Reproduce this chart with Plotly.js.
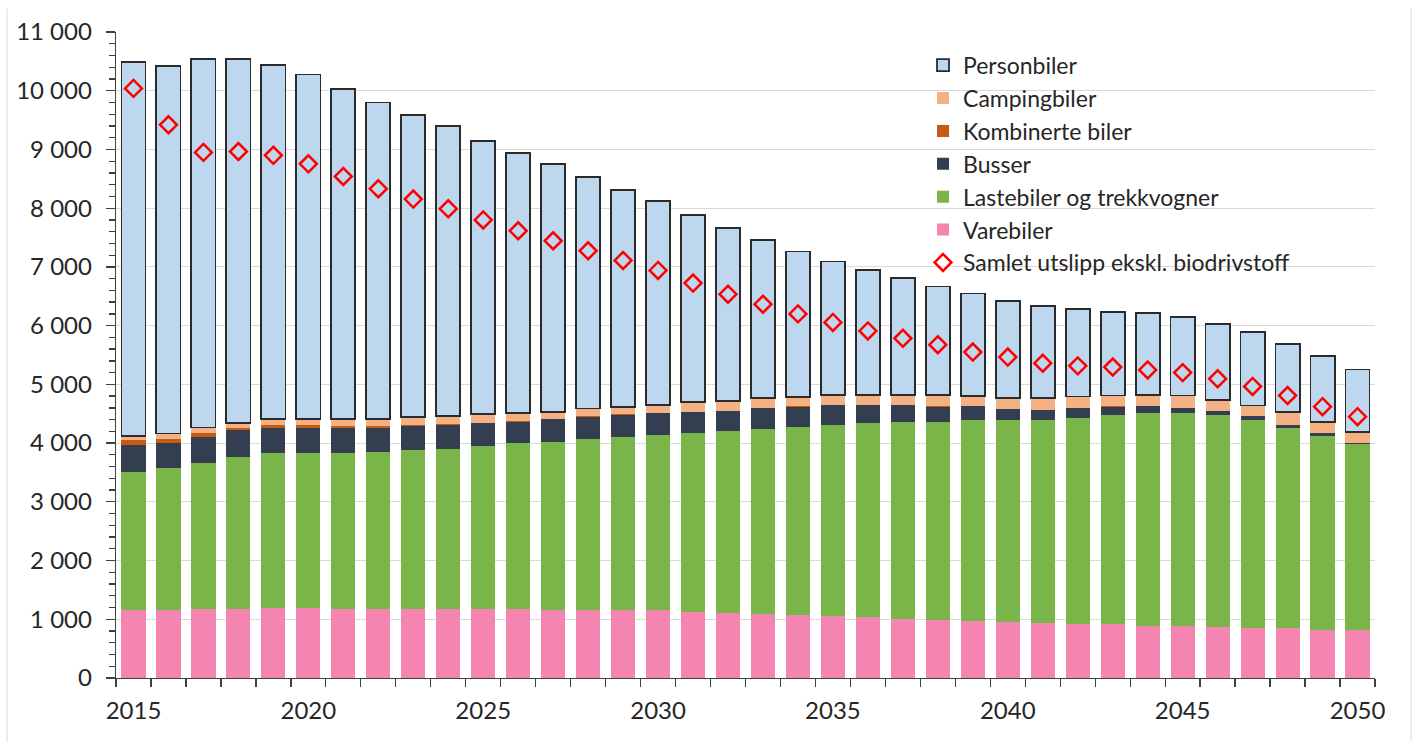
<!DOCTYPE html>
<html>
<head>
<meta charset="utf-8">
<script src="https://cdn.plot.ly/plotly-3.0.1.min.js"></script>
<style>
  html, body { margin: 0; padding: 0; background: #ffffff; }
  #chart { width: 1416px; height: 742px; }
</style>
</head>
<body>
<div id="chart"></div>
<script>
// ---- Data ----
const years = ['2015','2016','2017','2018','2019','2020','2021','2022','2023','2024','2025','2026',
  '2027','2028','2029','2030','2031','2032','2033','2034','2035','2036','2037','2038',
  '2039','2040','2041','2042','2043','2044','2045','2046','2047','2048','2049','2050'];

const xTickLabels = ['2015','','','','','2020','','','','','2025','','','','','2030','','','','','2035',
  '','','','','2040','','','','','2045','','','','','2050'];

const varebiler = [1160,1160,1175,1175,1200,1200,1175,1175,1170,1170,1170,1170,
  1160,1160,1160,1155,1130,1100,1085,1080,1055,1035,1010,990,
  965,960,945,920,915,890,885,865,850,845,820,815];

const lastebiler = [2340,2410,2490,2585,2625,2625,2650,2680,2710,2730,2780,2830,
  2865,2910,2950,2985,3040,3110,3150,3200,3255,3300,3345,3365,
  3420,3425,3440,3505,3565,3620,3625,3615,3535,3420,3300,3165];

const busser = [460,425,445,455,440,440,440,410,405,410,385,355,
  380,380,370,370,360,335,360,340,340,315,295,265,
  240,195,180,170,140,115,85,70,70,45,45,15];

const kombinerte = [95,70,55,40,35,35,25,25,20,20,15,15,
  10,10,10,8,8,8,6,6,6,6,6,6,
  6,8,6,5,5,5,6,5,4,4,3,3];

const campingbiler = [60,100,100,85,105,105,115,115,140,135,140,140,
  120,130,130,135,155,160,165,165,165,165,165,195,
  165,180,195,195,185,185,210,180,180,210,185,195];

const personbiler = [6375,6260,6275,6200,6035,5870,5625,5395,5140,4930,4660,4430,
  4215,3935,3690,3470,3190,2955,2695,2470,2270,2130,1990,1845,
  1750,1655,1570,1485,1425,1400,1330,1290,1250,1165,1135,1060];

const samlet = [10040,9420,8950,8965,8900,8755,8540,8330,8155,7990,7800,7615,
  7445,7275,7110,6940,6725,6535,6365,6200,6055,5910,5785,5675,
  5550,5465,5360,5315,5295,5245,5200,5095,4965,4810,4620,4450];

// ---- Traces ----
function barTrace(name, y, color, rank, line) {
  return {
    type: 'bar', name: name, x: years, y: y,
    marker: { color: color, line: line || { width: 0 } },
    legendgroup: name, legendrank: rank,
    hoverinfo: 'x+y+name'
  };
}

const traces = [
  barTrace('Varebiler', varebiler, '#F484B0', 6),
  barTrace('Lastebiler og trekkvogner', lastebiler, '#7AB54A', 5),
  barTrace('Busser', busser, '#333F50', 4),
  barTrace('Kombinerte biler', kombinerte, '#C55A11', 3),
  barTrace('Campingbiler', campingbiler, '#F4B183', 2),
  barTrace('Personbiler', personbiler, '#BDD7EE', 1, { color: '#2b2b2b', width: 1.8 }),
  {
    type: 'scatter', mode: 'markers', name: 'Samlet utslipp ekskl. biodrivstoff',
    x: years, y: samlet,
    marker: { symbol: 'diamond-open', size: 13, color: '#FF0000', line: { color: '#FF0000', width: 2.5 } },
    legendgroup: 'Samlet', legendrank: 7
  }
];

const fontFam = 'Lato, "Liberation Sans", sans-serif';
const textColor = '#262626';

const layout = {
  width: 1416, height: 742,
  margin: { l: 116, r: 41, t: 32, b: 64, pad: 0 },
  paper_bgcolor: '#ffffff', plot_bgcolor: '#ffffff',
  barmode: 'stack', bargap: 0.31,
  separators: ', ',
  font: { family: fontFam, size: 24, color: textColor },
  showlegend: true,
  legend: {
    x: 0.641, xanchor: 'left', y: 0.982, yanchor: 'top',
    traceorder: 'grouped', tracegroupgap: 0,
    bgcolor: 'rgba(255,255,255,0)', borderwidth: 0,
    font: { family: fontFam, size: 23, color: textColor },
    itemwidth: 30
  },
  xaxis: {
    type: 'category', range: [-0.5, 35.5], autorange: false,
    tickmode: 'array', tickvals: years, ticktext: xTickLabels, tickangle: 0,
    tickson: 'boundaries', ticks: 'outside', ticklen: 8, tickwidth: 1.3, tickcolor: '#404040',
    ticklabelstandoff: 11,
    showline: true, linecolor: '#404040', linewidth: 1.3,
    showgrid: false, zeroline: false,
    tickfont: { family: fontFam, size: 24, color: textColor },
    fixedrange: true
  },
  yaxis: {
    range: [0, 11000], autorange: false, tick0: 0, dtick: 1000, tickformat: ',',
    ticks: 'outside', ticklen: 9, tickwidth: 1.3, tickcolor: '#404040',
    ticklabelstandoff: 9,
    minor: { dtick: 200, tick0: 0, ticks: 'outside', ticklen: 6, tickwidth: 1.3, tickcolor: '#404040', showgrid: false },
    showline: true, linecolor: '#404040', linewidth: 1.3,
    showgrid: true, gridcolor: '#d9d9d9', gridwidth: 1,
    zeroline: false,
    tickfont: { family: fontFam, size: 24, color: textColor },
    fixedrange: true
  },
  shapes: [
    { type: 'line', xref: 'paper', yref: 'paper', x0: -0.0866, x1: -0.0866, y0: 1.037, y1: -0.1,
      line: { color: '#dcdcdc', width: 1 } },
    { type: 'line', xref: 'paper', yref: 'paper', x0: 1.0286, x1: 1.0286, y0: 1.037, y1: -0.1,
      line: { color: '#dcdcdc', width: 1 } }
  ]
};

Plotly.newPlot('chart', traces, layout, { displayModeBar: false, staticPlot: true });
</script>
</body>
</html>
